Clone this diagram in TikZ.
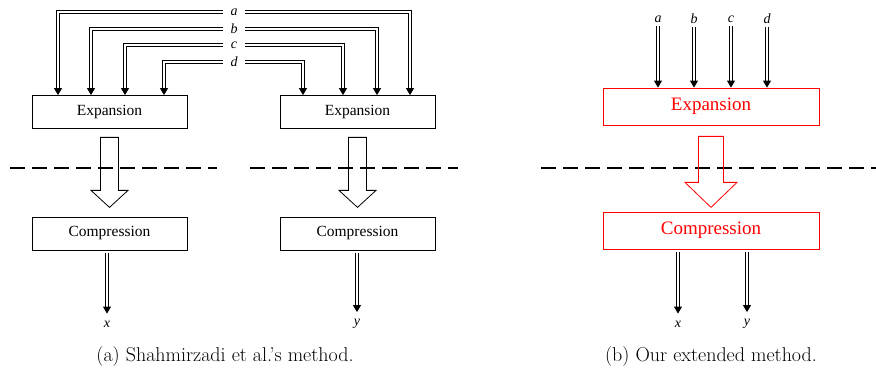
\documentclass[tikz,border=0pt]{standalone}
\usepackage{fontspec}
\newfontfamily\tnr{Liberation Serif}
\usetikzlibrary{arrows.meta,calc}
\tikzset{
  box/.style={draw, line width=0.8pt, minimum width=155pt, minimum height=33pt, inner sep=0pt,
              font=\tnr\fontsize{15.5}{18}\selectfont},
  rbox/.style={draw=red, text=red, line width=0.8pt, minimum width=216pt, minimum height=37pt, inner sep=0pt,
              font=\tnr\fontsize{19}{22}\selectfont},
  dbl/.style={double, double distance=1.8pt, line width=0.9pt, -{Triangle[width=8pt,length=7pt]}},
  lab/.style={font=\tnr\itshape\fontsize{14}{16}\selectfont, inner sep=0pt},
  hollow/.style={draw, line width=0.8pt, line join=miter},
  sep/.style={line width=1.4pt, dash pattern=on 15pt off 7pt},
  captxt/.style={font=\fontsize{20}{24}\selectfont, inner sep=0pt}
}
\begin{document}
\begin{tikzpicture}[x=1pt,y=-1pt]
\useasboundingbox (0,0) rectangle (876,374);

% ---------- panel (a) ----------
\node[box] (E1) at (109.5,112) {Expansion};
\node[box] (E2) at (357.5,112) {Expansion};
\node[box] (C1) at (109.5,233.5) {Compression};
\node[box] (C2) at (357.5,233.5) {Compression};

\node[lab, minimum width=22pt] (la) at (234,12) {a};
\node[lab, minimum width=22pt] (lb) at (234,29) {b};
\node[lab, minimum width=22pt] (lc) at (234,45) {c};
\node[lab, minimum width=22pt] (ld) at (234,62) {d};

\coordinate (xa1) at (58,0);
\coordinate (xb1) at (91,0);
\coordinate (xc1) at (125,0);
\coordinate (xd1) at (164,0);
\coordinate (xd2) at (303,0);
\coordinate (xc2) at (343,0);
\coordinate (xb2) at (377,0);
\coordinate (xa2) at (410,0);

\draw[dbl] (la.west) -| (xa1 |- E1.north);
\draw[dbl] (lb.west) -| (xb1 |- E1.north);
\draw[dbl] (lc.west) -| (xc1 |- E1.north);
\draw[dbl] (ld.west) -| (xd1 |- E1.north);
\draw[dbl] (la.east) -| (xa2 |- E2.north);
\draw[dbl] (lb.east) -| (xb2 |- E2.north);
\draw[dbl] (lc.east) -| (xc2 |- E2.north);
\draw[dbl] (ld.east) -| (xd2 |- E2.north);

\draw[sep] (10,168) -- (217,168);
\draw[sep] (250,168) -- (458,168);

\foreach \b in {E1,E2}{
  \draw[hollow] ($(\b.south)+(-9,8.5)$) -- ($(\b.south)+(9,8.5)$) -- ($(\b.south)+(9,61.5)$)
    -- ($(\b.south)+(18.5,61.5)$) -- ($(\b.south)+(0,78.5)$) -- ($(\b.south)+(-18.5,61.5)$)
    -- ($(\b.south)+(-9,61.5)$) -- cycle;
}

\node[lab] (ox) at (107,324) {x};
\node[lab] (oy) at (357,324) {y};
\draw[dbl] ([yshift=-3pt]C1.south -| ox) -- ([yshift=7pt]ox.north);
\draw[dbl] ([yshift=-3pt]C2.south -| oy) -- ([yshift=7pt]oy.north);

\node[captxt] (capa) at (225,357) {(a) Shahmirzadi et al.'s method.};

% ---------- panel (b) ----------
\node[rbox] (RE) at (711,106.5) {Expansion};
\node[rbox] (RC) at (711,230.5) {Compression};

\node[lab] (ra) at (658,19) {a};
\node[lab] (rb) at (694,19) {b};
\node[lab] (rc) at (731,19) {c};
\node[lab] (rd) at (767,19) {d};
\foreach \n in {ra,rb,rc,rd}{
  \draw[dbl] ([yshift=-3pt]\n.south) -- (\n.south |- RE.north);
}

\draw[sep] (541,168) -- (876,168);

\draw[hollow, draw=red] ($(RE.south)+(-12.5,11)$) -- ($(RE.south)+(12.5,11)$) -- ($(RE.south)+(12.5,57)$)
  -- ($(RE.south)+(26,57)$) -- ($(RE.south)+(0,82)$) -- ($(RE.south)+(-26,57)$)
  -- ($(RE.south)+(-12.5,57)$) -- cycle;

\node[lab] (rx) at (678,324) {x};
\node[lab] (ry) at (747,324) {y};
\draw[dbl] ([yshift=-3pt]RC.south -| rx) -- ([yshift=7pt]rx.north);
\draw[dbl] ([yshift=-3pt]RC.south -| ry) -- ([yshift=7pt]ry.north);

\node[captxt] (capb) at (711,357) {(b) Our extended method.};
\end{tikzpicture}
\end{document}
